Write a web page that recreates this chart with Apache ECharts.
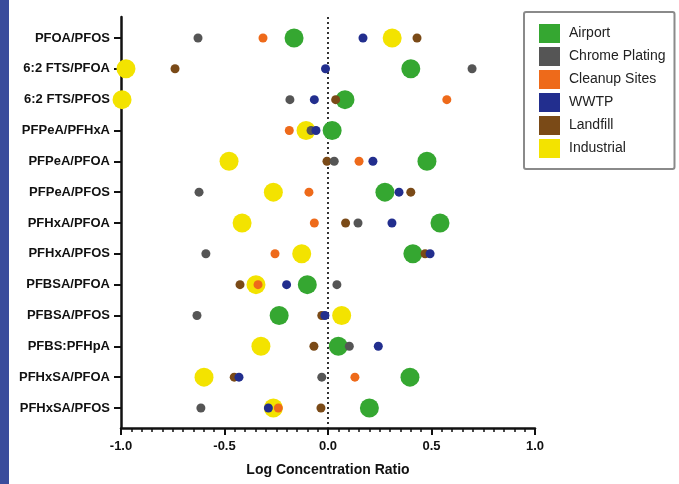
<!DOCTYPE html>
<html>
<head>
<meta charset="utf-8">
<script src="https://cdn.jsdelivr.net/npm/echarts@6/dist/echarts.min.js"></script>
<style>
html,body{margin:0;padding:0;background:#fff;}
#chart{width:679px;height:484px;}
</style>
</head>
<body>
<div id="chart"></div>
<script>
const categories = ['PFOA/PFOS','6:2 FTS/PFOA','6:2 FTS/PFOS','PFPeA/PFHxA','PFPeA/PFOA','PFPeA/PFOS','PFHxA/PFOA','PFHxA/PFOS','PFBSA/PFOA','PFBSA/PFOS','PFBS:PFHpA','PFHxSA/PFOA','PFHxSA/PFOS'];
const xTicks = [-1.0, -0.5, 0.0, 0.5, 1.0];
const airport     = [-0.164, 0.40, 0.082, 0.02, 0.478, 0.275, 0.541, 0.41, -0.10, -0.236, 0.05, 0.396, 0.20];
const chrome      = [-0.628, 0.696, -0.184, -0.082, 0.03, -0.623, 0.145, -0.59, 0.043, -0.633, 0.103, -0.03, -0.614];
const cleanup     = [-0.314, null, 0.574, -0.187, 0.15, -0.092, -0.066, -0.256, -0.338, null, null, 0.13, -0.24];
const wwtp        = [0.169, -0.012, -0.066, -0.058, 0.217, 0.343, 0.309, 0.493, -0.20, -0.015, 0.243, -0.43, -0.288];
const landfill    = [0.43, -0.739, 0.037, null, -0.005, 0.40, 0.085, 0.469, -0.425, -0.03, -0.068, -0.453, -0.034];
const industrial  = [0.31, -0.976, -0.995, -0.106, -0.478, -0.264, -0.415, -0.127, -0.348, 0.066, -0.324, -0.599, -0.264];

const FONT = "'Liberation Sans', Arial, Helvetica, sans-serif";
const seriesDefs = [
  {name:'Industrial', values:industrial, color:'#f3e300', size:19},
  {name:'Airport', values:airport, color:'#35a731', size:19},
  {name:'Landfill', values:landfill, color:'#7a4a17', size:9},
  {name:'Chrome Plating', values:chrome, color:'#555555', size:9},
  {name:'Cleanup Sites', values:cleanup, color:'#ee6a1a', size:9},
  {name:'WWTP', values:wwtp, color:'#222e8e', size:9}
];
const legendOrder = ['Airport','Chrome Plating','Cleanup Sites','WWTP','Landfill','Industrial'];

const series = seriesDefs.map(function(d, si){
  const s = {
    name: d.name,
    type: 'scatter',
    symbol: 'circle',
    symbolSize: d.size,
    itemStyle: {color: d.color, opacity: 1},
    data: d.values.map(function(v, i){ return v === null ? null : [v, i]; }).filter(function(p){return p !== null;}),
    z: 3
  };
  if (si === 0) {
    s.markLine = {
      silent: true,
      symbol: ['none','none'],
      label: {show:false},
      lineStyle: {type:[2,3], color:'#333', width:2},
      data: [{xAxis: 0}],
      z: 1
    };
  }
  return s;
});

const chart = echarts.init(document.getElementById('chart'), null, {renderer:'canvas'});
chart.setOption({
  animation: false,
  backgroundColor: '#ffffff',
  graphic: [{type:'rect', left:0, top:0, shape:{width:9, height:484}, style:{fill:'#3a4c9c'}, silent:true}],
  grid: {left:121, right:144, top:17, bottom:56, containLabel:false},
  legend: {
    data: legendOrder,
    orient: 'vertical',
    left: 524, top: 12,
    itemWidth: 21, itemHeight: 19, itemGap: 4,
    icon: 'rect',
    padding: [12, 9, 11, 15],
    borderColor: '#8a8a8a', borderWidth: 2, borderRadius: 2,
    textStyle: {fontFamily: FONT, fontSize: 14, color:'#222', padding:[0,0,0,4]}
  },
  xAxis: {
    type: 'value', min: -1, max: 1, interval: 0.5,
    axisLine: {show:true, onZero:false, lineStyle:{color:'#111', width:2.5}},
    axisTick: {show:true, length:7, lineStyle:{color:'#111', width:2}},
    minorTick: {show:true, splitNumber:10, length:4, lineStyle:{color:'#111', width:1.5}},
    splitLine: {show:false},
    axisLabel: {fontFamily: FONT, fontSize: 13, fontWeight:'bold', color:'#111', margin:12,
      formatter: function(v){ const t = xTicks.find(function(x){return Math.abs(x-v)<1e-9;}); return (t === undefined ? v : t).toFixed(1); }},
    name: 'Log Concentration Ratio', nameLocation: 'middle', nameGap: 35,
    nameTextStyle: {fontFamily: FONT, fontSize: 14, fontWeight:'bold', color:'#111'}
  },
  yAxis: {
    type: 'value', min: -0.68, max: 12.65, inverse: true,
    axisLine: {show:true, onZero:false, lineStyle:{color:'#111', width:2.5}},
    axisTick: {show:true, length:7, lineStyle:{color:'#111', width:2}, customValues: categories.map(function(c,i){return i;})},
    splitLine: {show:false},
    axisLabel: {fontFamily: FONT, fontSize: 13, fontWeight:'bold', color:'#111', margin:11,
      customValues: categories.map(function(c,i){return i;}),
      formatter: function(v){ const i = Math.round(v); return categories[i] || ''; }}
  },
  series: series
});
</script>
</body>
</html>
